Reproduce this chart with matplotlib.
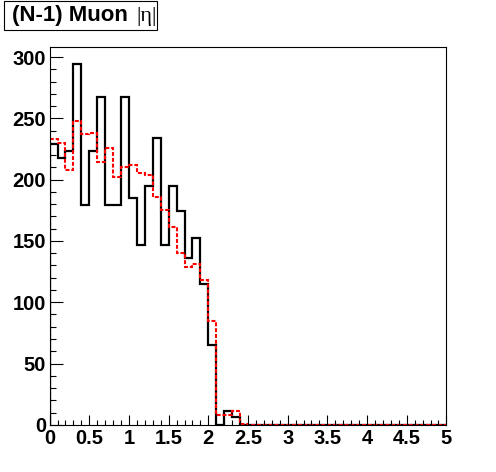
import numpy as np
import matplotlib
matplotlib.use('Agg')
import matplotlib.pyplot as plt
from matplotlib.patches import Rectangle

# |eta| histograms, 50 bins of 0.1 from 0 to 5
bin_edges = np.linspace(0, 5, 51)

black_counts = [229, 218, 223, 294, 179, 223, 267, 179, 179, 267,
                185, 147, 195, 234, 147, 195, 174, 136, 152, 115,
                65, 0, 11, 6, 0, 0, 0, 0, 0, 0,
                0, 0, 0, 0, 0, 0, 0, 0, 0, 0,
                0, 0, 0, 0, 0, 0, 0, 0, 0, 0]

red_counts = [233, 230, 208, 248, 237, 238, 214, 226, 202, 210,
              212, 205, 204, 186, 175, 161, 140, 129, 131, 118,
              85, 8, 8, 11, 1, 0, 0, 0, 0, 0,
              0, 0, 0, 0, 0, 0, 0, 0, 0, 0,
              0, 0, 0, 0, 0, 0, 0, 0, 0, 0]

x_ticks = [0, 0.5, 1, 1.5, 2, 2.5, 3, 3.5, 4, 4.5, 5]
x_tick_labels = ['0', '0.5', '1', '1.5', '2', '2.5', '3', '3.5', '4', '4.5', '5']
y_ticks = [0, 50, 100, 150, 200, 250, 300]

title_main = '(N-1) Muon '
title_sym = '|\u03b7|'

W, H = 496, 472
fig = plt.figure(figsize=(W / 100, H / 100), dpi=100)
ax = fig.add_axes([0.1, 0.1, 0.8, 0.8])

ax.stairs(black_counts, bin_edges, color='black', linewidth=1.6)
ax.stairs(red_counts, bin_edges, color='red', linewidth=1.5,
          linestyle=(0, (1.9, 0.9)))

ax.set_xlim(0, 5)
ax.set_ylim(0, 308)

ax.set_xticks(x_ticks)
ax.set_xticklabels(x_tick_labels)
ax.set_xticks(np.arange(0, 5.01, 0.1), minor=True)
ax.set_yticks(y_ticks)
ax.set_yticks(np.arange(0, 308, 10), minor=True)

for lab in ax.get_xticklabels() + ax.get_yticklabels():
    lab.set_fontfamily('Liberation Sans')
    lab.set_fontweight('bold')
    lab.set_fontsize(14.5)

ax.tick_params(axis='x', which='major', direction='in', length=7.5, width=0.8, pad=3)
ax.tick_params(axis='x', which='minor', direction='in', length=3.8, width=0.8)
ax.tick_params(axis='y', which='major', direction='in', length=9, width=0.8, pad=2.5)
ax.tick_params(axis='y', which='minor', direction='in', length=4.6, width=0.8)
ax.tick_params(top=False, right=False, which='both')

for sp in ax.spines.values():
    sp.set_linewidth(0.8)
    sp.set_color('black')

# title box in the top-left corner
fig.patches.append(Rectangle((4 / W, 1 - 30 / H), 153 / W, 29 / H,
                             transform=fig.transFigure, facecolor='white',
                             edgecolor='black', linewidth=0.8))
fig.text(12 / W, 1 - 16 / H, title_main, fontsize=16, fontweight='bold',
         family='Liberation Sans', va='center', ha='left')
fig.text(136.5 / W, 1 - 16 / H, title_sym, fontsize=16,
         family=['Liberation Serif', 'DejaVu Serif'], va='center', ha='left')

fig.savefig('out.png', dpi=100, facecolor='white')
